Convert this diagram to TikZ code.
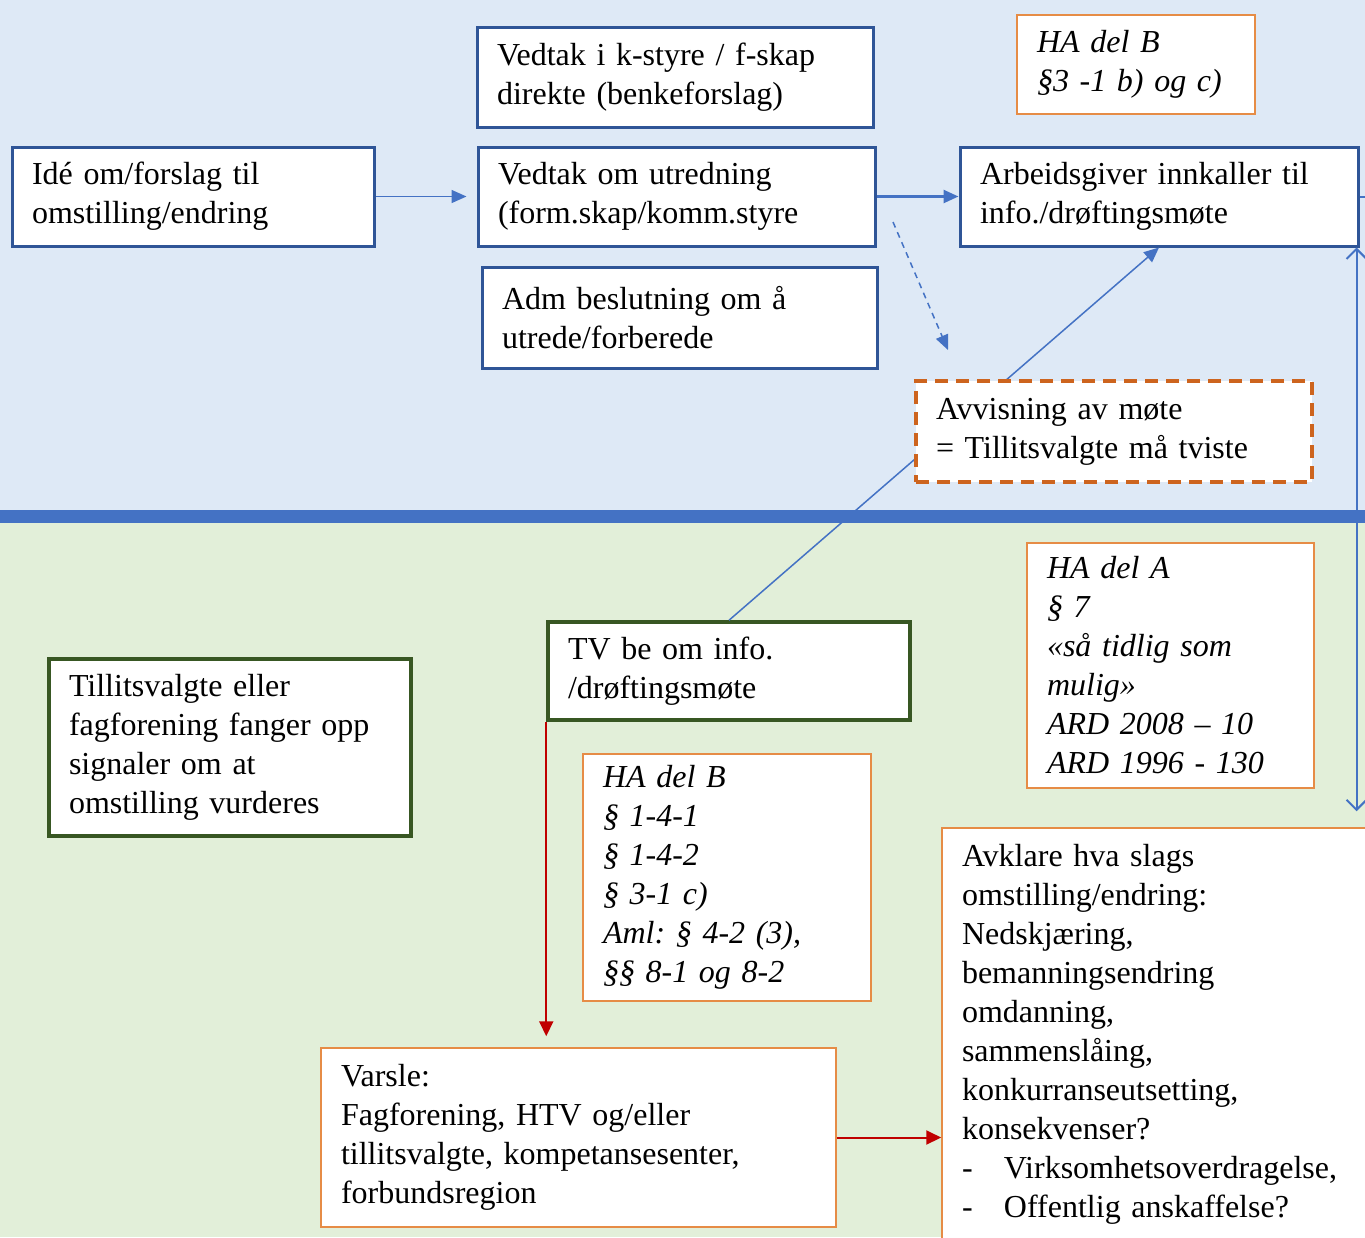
\documentclass[tikz,border=0pt]{standalone}
\usepackage{fontspec}
\setmainfont{Liberation Serif}
\usepackage{xcolor}
\usetikzlibrary{arrows.meta}
\definecolor{skyblue}{RGB}{222,233,246}
\definecolor{palegreen}{RGB}{226,239,217}
\definecolor{lineblue}{RGB}{68,114,196}
\definecolor{boxblue}{RGB}{47,85,151}
\definecolor{leafgreen}{RGB}{56,87,35}
\definecolor{laworange}{RGB}{230,140,70}
\definecolor{rustorange}{RGB}{205,100,30}
\definecolor{arrowred}{RGB}{192,0,0}
\newcommand{\boxfont}{\fontsize{32}{39}\selectfont\frenchspacing}

\begin{document}
\begin{tikzpicture}[x=1pt,y=-1pt,
	blueframe/.style={rectangle, draw=boxblue, line width=3pt, fill=white, align=left, inner xsep=20pt, inner ysep=4pt, font=\boxfont},
	greenframe/.style={blueframe, draw=leafgreen, line width=3.5pt},
	plainframe/.style={blueframe, draw=laworange, line width=1.5pt},
	lawframe/.style={plainframe, font=\boxfont\itshape},
	rejectframe/.style={blueframe, draw=rustorange, line width=3.5pt, dash pattern=on 13pt off 8pt},
	flow/.style={draw=lineblue, line width=2pt, -{Triangle[length=15pt,width=13pt]}},
	hintflow/.style={flow, line width=1.5pt, dash pattern=on 6pt off 5pt},
	redflow/.style={draw=arrowred, line width=2pt, -{Triangle[length=15pt,width=14pt]}},
	twoway/.style={draw=lineblue, line width=2pt, {Straight Barb[length=10pt,width=20pt]}-{Straight Barb[length=10pt,width=20pt]}}]

	% bakgrunn: arbeidsgiver oppe, tillitsvalgte nede
	\path[use as bounding box] (0,0) rectangle (1365,1237);
	\clip (0,0) rectangle (1365,1237);
	\fill[skyblue] (0,0) rectangle (1365,516);
	\fill[palegreen] (0,516) rectangle (1365,1237);
	\draw[lineblue, line width=13pt] (0,516.5) -- (1365,516.5);

	% arbeidsgiversiden
	\node[blueframe, text width=356pt, minimum height=100pt] (benke) at (675,77)
		{Vedtak i k-styre / f-skap\\direkte (benkeforslag)};
	\node[blueframe, text width=322pt, minimum height=99pt] (idee) at (193,196.5)
		{Idé om/forslag til\\omstilling/endring};
	\node[blueframe, text width=357pt, minimum height=99pt] (utredning) at (676.5,196.5)
		{Vedtak om utredning\\(form.skap/komm.styre};
	\node[blueframe, text width=355pt, minimum height=101pt] (adm) at (679.5,317.5)
		{Adm beslutning om å\\utrede/forberede};
	\node[lawframe, text width=198pt, minimum height=99pt] (delBtop) at (1136,64.5)
		{HA del B\\§3 -1 b) og c)};
	\node[blueframe, text width=358pt, minimum height=99pt] (innkall) at (1159,196.5)
		{Arbeidsgiver innkaller til\\info./drøftingsmøte};

	% tillitsvalgtsiden
	\node[greenframe, text width=322pt, minimum height=177pt] (signal) at (230,747.5)
		{Tillitsvalgte eller\\fagforening fanger opp\\signaler om at\\omstilling vurderes};
	\node[greenframe, text width=322pt, minimum height=98pt] (tvinfo) at (729,671)
		{TV be om info.\\/drøftingsmøte};
	\node[lawframe, text width=248pt, minimum height=247pt] (delB) at (727,877.5)
		{HA del B\\§ 1-4-1\\§ 1-4-2\\§ 3-1 c)\\Aml: § 4-2 (3),\\§§ 8-1 og 8-2};
	\node[lawframe, text width=247pt, minimum height=245pt] (delA) at (1170.5,665.5)
		{HA del A\\§ 7\\«så tidlig som\\mulig»\\ARD 2008 – 10\\ARD 1996 - 130};
	\node[plainframe, text width=408pt, minimum height=413pt] (avklare) at (1166,1034.5)
		{Avklare hva slags\\omstilling/endring:\\Nedskjæring,\\bemanningsendring\\omdanning,\\sammenslåing,\\konkurranseutsetting,\\konsekvenser?\\
		\makebox[42pt][l]{-}Virksomhetsoverdragelse,\\\makebox[42pt][l]{-}Offentlig anskaffelse?};
	\node[plainframe, text width=475pt, minimum height=179pt] (varsle) at (578.5,1137.5)
		{Varsle:\\Fagforening, HTV og/eller\\tillitsvalgte, kompetansesenter,\\forbundsregion};

	% piler
	\draw[flow, line width=1.5pt, shorten >=10pt] (idee.east) -- (utredning.west);
	\draw[flow, line width=2.5pt] (utredning.east) -- (innkall.west);
	\coordinate (hint1) at (893,222);
	\coordinate (hint2) at (948,350);
	\draw[hintflow] (hint1) -- (hint2);
	\draw[flow, line width=1.5pt] (tvinfo.north) -- (innkall.south);
	\draw[lineblue, line width=2pt] (innkall.east) -- ++(20,0);
	\coordinate (rail) at ([xshift=-3pt]innkall.south east);
	\draw[twoway, shorten >=16pt] (rail) -- (rail |- avklare.north);
	\draw[redflow, shorten >=11pt] (tvinfo.south west) -- (tvinfo.south west |- varsle.north);
	\draw[redflow] (varsle.east) -- (avklare.west |- varsle.east);

	% avvisning ligger over linjen
	\node[rejectframe, text width=356pt, minimum height=101pt] (avvis) at (1114,431.5)
		{Avvisning av møte\\= Tillitsvalgte må tviste};
\end{tikzpicture}
\end{document}
